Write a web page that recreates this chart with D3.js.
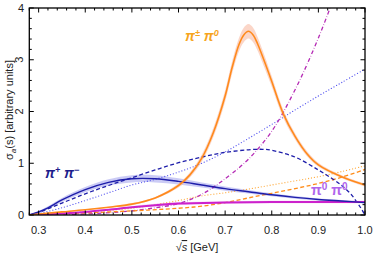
<!DOCTYPE html>
<html><head><meta charset="utf-8">
<script src="https://cdn.jsdelivr.net/npm/d3@7"></script>
<style>body{margin:0;background:#fff}svg{display:block;font-family:"Liberation Sans",Arial,sans-serif}</style>
</head><body><svg id="c" width="374" height="255"></svg>
<script>
const xTicks=[0.3,0.4,0.5,0.6,0.7,0.8,0.9,1.0];
const yTicks=[0,1,2,3,4];
// pi+ pi- solid (with band)
const pmX=[0.28,0.30,0.32,0.35,0.40,0.45,0.50,0.55,0.60,0.65,0.70,0.75,0.80,0.85,0.90,0.95,1.00];
const pmY=[0,0.06,0.14,0.29,0.49,0.63,0.70,0.70,0.65,0.58,0.51,0.45,0.39,0.34,0.30,0.27,0.24];
const pmErr=[0,0.015,0.03,0.04,0.05,0.06,0.07,0.07,0.06,0.05,0.04,0.035,0.03,0.025,0.02,0.02,0.02];
// pi+ pi- dashed
const pmDashX=[0.28,0.30,0.35,0.40,0.45,0.50,0.55,0.60,0.65,0.70,0.75,0.78,0.80,0.85,0.90,0.93,0.95,0.97,0.99,1.00];
const pmDashY=[0,0.05,0.23,0.41,0.57,0.72,0.87,1.01,1.12,1.21,1.26,1.27,1.25,1.12,0.87,0.70,0.57,0.40,0.15,0.0];
// pi+ pi- dotted
const pmDotX=[0.28,0.30,0.35,0.40,0.45,0.50,0.55,0.60,0.65,0.70,0.75,0.80,0.85,0.90,0.95,1.00];
const pmDotY=[0,0.03,0.14,0.28,0.43,0.58,0.69,0.83,1.00,1.22,1.48,1.75,2.03,2.30,2.56,2.82];
// pi+- pi0 solid (with band)
const cX=[0.28,0.30,0.35,0.40,0.45,0.50,0.55,0.60,0.625,0.65,0.675,0.70,0.715,0.73,0.74,0.75,0.76,0.77,0.785,0.80,0.825,0.85,0.875,0.90,0.95,1.00];
const cY=[0,0.02,0.06,0.10,0.15,0.21,0.33,0.57,0.78,1.10,1.60,2.30,2.85,3.30,3.48,3.55,3.48,3.30,2.95,2.58,1.95,1.52,1.19,0.97,0.74,0.58];
const cErr=[0,0,0.01,0.01,0.01,0.02,0.02,0.04,0.05,0.07,0.09,0.11,0.12,0.13,0.14,0.14,0.14,0.13,0.12,0.10,0.08,0.06,0.05,0.04,0.03,0.03];
// pi+- pi0 dashed
const cDashX=[0.28,0.40,0.50,0.60,0.65,0.70,0.75,0.80,0.85,0.90,0.95,1.00];
const cDashY=[0,0.04,0.08,0.13,0.17,0.24,0.33,0.42,0.51,0.61,0.73,0.88];
// pi+- pi0 dotted
const cDotX=[0.28,0.40,0.50,0.60,0.65,0.70,0.75,0.80,0.85,0.90,0.95,1.00];
const cDotY=[0,0.06,0.13,0.28,0.37,0.43,0.50,0.58,0.66,0.74,0.84,0.95];
// magenta dash-dot
const mDdX=[0.28,0.40,0.50,0.55,0.60,0.65,0.70,0.75,0.80,0.85,0.90,0.95];
const mDdY=[0,0.02,0.08,0.14,0.22,0.40,0.70,1.08,1.62,2.42,3.42,4.60];
// pi0 pi0 solid (with band)
const nX=[0.28,0.35,0.40,0.45,0.50,0.55,0.60,0.70,0.80,0.90,1.00];
const nY=[0,0.03,0.06,0.10,0.15,0.19,0.22,0.24,0.25,0.25,0.25];
const nErr=[0,0.005,0.01,0.015,0.02,0.025,0.025,0.025,0.025,0.025,0.025];

const svg=d3.select("#c");
const L=29.3,R=365,T=8,B=215;
const x=d3.scaleLinear().domain([0.28,1.0]).range([L,R]);
const y=d3.scaleLinear().domain([0,4]).range([B,T]);

svg.append("defs").append("clipPath").attr("id","clip").append("rect")
  .attr("x",L).attr("y",T).attr("width",R-L).attr("height",B-T);
const g=svg.append("g").attr("clip-path","url(#clip)");

// labels under lines
svg.append("text").attr("x",45).attr("y",178).attr("fill","#1c1c8c").attr("font-size",14).attr("font-weight","bold").attr("font-style","italic")
  .html('π<tspan dy="-5" font-size="9">+</tspan><tspan dy="5"> π</tspan><tspan dy="-5" font-size="9">−</tspan>');
svg.append("text").attr("x",185).attr("y",41).attr("fill","#f7a51e").attr("font-size",14).attr("font-weight","bold").attr("font-style","italic")
  .html('π<tspan dy="-5" font-size="9">±</tspan><tspan dy="5"> π</tspan><tspan dy="-5" font-size="9">0</tspan>');
svg.append("text").attr("x",311).attr("y",195).attr("fill","#b064ec").attr("font-size",14).attr("font-weight","bold")
  .html('π<tspan dy="-5" font-size="10">0</tspan><tspan dy="5"> π</tspan><tspan dy="-5" font-size="10">0</tspan>');

const curve=d3.curveCatmullRom.alpha(0.5);
function pts(xs,ys){return xs.map((v,i)=>[v,ys[i]]);}
function band(xs,ys,es,fill,op){
  const d=xs.map((v,i)=>({x:v,lo:ys[i]-es[i],hi:ys[i]+es[i]}));
  g.append("path").attr("d",d3.area().curve(curve).x(p=>x(p.x)).y0(p=>y(p.lo)).y1(p=>y(p.hi))(d))
   .attr("fill",fill).attr("opacity",op);
}
function line(xs,ys,color,w,dash){
  const p=g.append("path").attr("d",d3.line().curve(curve).x(p=>x(p[0])).y(p=>y(p[1]))(pts(xs,ys)))
   .attr("fill","none").attr("stroke",color).attr("stroke-width",w);
  if(dash)p.attr("stroke-dasharray",dash).attr("stroke-linecap",dash.startsWith("0")?"round":"butt");
}
band(pmX,pmY,pmErr,"#8c8ce8",0.45);
band(cX,cY,cErr,"#f7b49a",0.55);
band(nX,nY,nErr,"#f0a0f0",0.5);

line(pmDotX,pmDotY,"#5a5af0",1.3,"0,3");
line(cDotX,cDotY,"#ffae45",1.3,"0,3");
line(mDdX,mDdY,"#b52ab5",1.3,"4,2,0.5,2");
line(cDashX,cDashY,"#ff8c1a",1.3,"4,2.5");
line(pmDashX,pmDashY,"#1e1eaa",1.3,"4,2.5");
line(nX,nY,"#cc22cc",2,null);
line(pmX,pmY,"#1e1eaa",1.4,null);
line(cX,cY,"#ff8a1c",1.6,null);

// frame
svg.append("rect").attr("x",L).attr("y",T).attr("width",R-L).attr("height",B-T).attr("fill","none").attr("stroke","#000").attr("stroke-width",1.3);
// ticks
const tk=svg.append("g").attr("stroke","#000").attr("stroke-width",1);
const xMinor=d3.range(0.28,1.0001,0.02).map(v=>+v.toFixed(2));
xMinor.forEach(v=>{
  const major=xTicks.some(t=>Math.abs(t-v)<1e-6);const len=major?4.5:2.5;
  tk.append("line").attr("x1",x(v)).attr("x2",x(v)).attr("y1",B).attr("y2",B-len);
  tk.append("line").attr("x1",x(v)).attr("x2",x(v)).attr("y1",T).attr("y2",T+len);
});
d3.range(0,4.0001,0.2).forEach(v=>{
  const major=yTicks.some(t=>Math.abs(t-v)<1e-6);const len=major?4.5:2.5;
  tk.append("line").attr("y1",y(v)).attr("y2",y(v)).attr("x1",L).attr("x2",L+len);
  tk.append("line").attr("y1",y(v)).attr("y2",y(v)).attr("x1",R).attr("x2",R-len);
});
// tick labels
svg.append("g").selectAll("text").data(xTicks).join("text")
  .attr("x",d=>x(d)).attr("y",234).attr("text-anchor","middle").attr("font-size",11).attr("fill","#222")
  .text(d=>d.toFixed(1));
svg.append("g").selectAll("text").data(yTicks).join("text")
  .attr("font-size",11).attr("fill","#222")
  .attr("transform",d=>(d===2||d===3)?`translate(24,${y(d)}) rotate(-90)`:`translate(24,${y(d)+4})`)
  .attr("text-anchor",d=>(d===2||d===3)?"middle":"end")
  .attr("dy",d=>(d===2||d===3)?"-0.1em":0)
  .text(d=>d);
// axis titles
svg.append("text").attr("x",197).attr("y",251).attr("text-anchor","middle").attr("font-size",11).attr("fill","#222")
  .html('√<tspan text-decoration="overline" font-style="italic">s</tspan> [GeV]');
svg.append("text").attr("transform","translate(13,110) rotate(-90)").attr("text-anchor","middle").attr("font-size",11).attr("fill","#222")
  .html('σ<tspan font-size="8" dy="3" font-style="italic">a</tspan><tspan dy="-3">(s) [arbitrary units]</tspan>');
</script></body></html>
